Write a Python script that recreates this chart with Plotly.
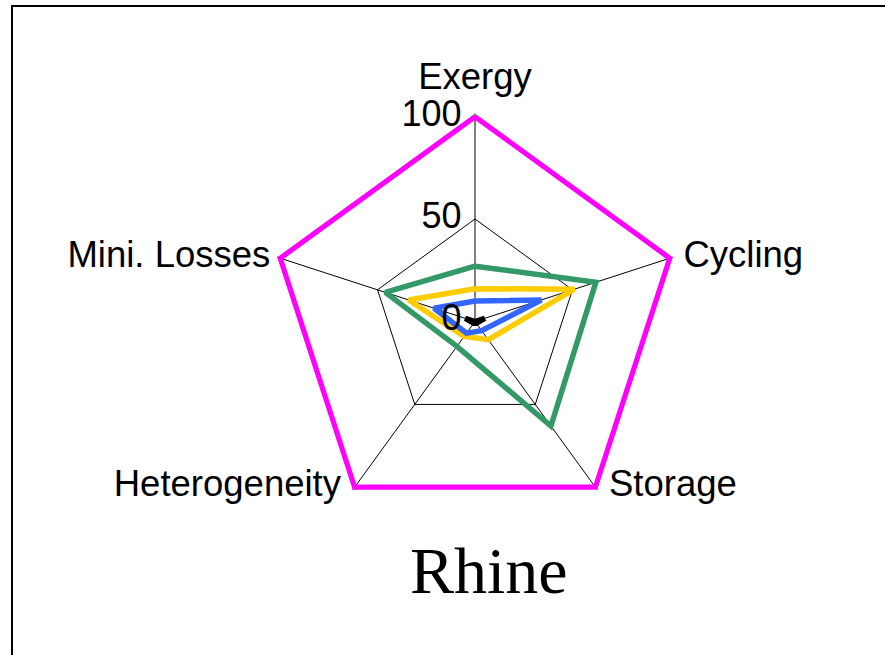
import plotly.graph_objects as go

categories = ["Exergy", "Cycling", "Storage", "Heterogeneity", "Mini. Losses"]
series_magenta = [100, 100, 100, 100, 100]
series_yellow = [16, 51, 11, 9, 34]
series_blue = [10, 34, 5.5, 7, 21]
series_green = [27, 62, 63, 15, 46]
series_black = [0, 5, 1, 1, 5]
radial_ticks = [0, 50, 100]
title_text = "Rhine"

series = [
    (series_magenta, "#FF00FF"),
    (series_yellow, "#FFCC00"),
    (series_blue, "#3366FF"),
    (series_green, "#339966"),
    (series_black, "#000000"),
]

R_MAX = 101.5  # a little headroom so the outer line is not clipped

fig = go.Figure()
for vals, col in series:
    fig.add_trace(go.Scatterpolar(
        r=vals + vals[:1],
        theta=categories + categories[:1],
        mode="lines",
        line=dict(color=col, width=5.5),
        cliponaxis=False,
        showlegend=False,
        hoverinfo="skip",
    ))

# category labels at the outer ring
fig.add_trace(go.Scatterpolar(
    r=[radial_ticks[-1]] * len(categories),
    theta=categories,
    mode="markers+text",
    text=categories,
    textposition=["top center", "middle right", "middle right", "middle left", "middle left"],
    marker=dict(size=[28, 20, 20, 20, 14], opacity=0),
    textfont=dict(size=36.5, family="Liberation Sans, Arial, sans-serif", color="black"),
    cliponaxis=False,
    showlegend=False,
    hoverinfo="skip",
))

# radial tick labels along the Exergy axis
fig.add_trace(go.Scatterpolar(
    r=[max(v, 0.01) for v in radial_ticks],
    theta=[categories[0]] * len(radial_ticks),
    mode="markers+text",
    text=[str(v) for v in radial_ticks],
    textposition="middle left",
    marker=dict(size=20, opacity=0),
    textfont=dict(size=36, family="Liberation Sans, Arial, sans-serif", color="black"),
    cliponaxis=False,
    showlegend=False,
    hoverinfo="skip",
))

W, H = 885, 655
cx, cy = 475, 321.5
R = 205 * R_MAX / 100
fig.update_layout(
    width=W, height=H,
    margin=dict(l=0, r=0, t=0, b=0),
    paper_bgcolor="white",
    plot_bgcolor="white",
    showlegend=False,
    font=dict(family="Liberation Sans, Arial, sans-serif", color="black", size=30),
    polar=dict(
        domain=dict(x=[(cx - R) / W, (cx + R) / W], y=[(H - cy - R) / H, (H - cy + R) / H]),
        bgcolor="white",
        gridshape="linear",
        angularaxis=dict(
            rotation=90,
            direction="clockwise",
            showline=False,
            gridcolor="black",
            gridwidth=1,
            ticks="",
            showticklabels=False,
            layer="below traces",
        ),
        radialaxis=dict(
            range=[0, R_MAX],
            tickvals=radial_ticks,
            angle=90,
            showline=False,
            gridcolor="black",
            gridwidth=1,
            ticks="",
            showticklabels=False,
            layer="below traces",
        ),
    ),
    shapes=[dict(
        type="rect", xref="paper", yref="paper",
        x0=12 / W, x1=1.02, y0=-0.02, y1=1 - 6 / H,
        line=dict(color="black", width=2),
        fillcolor="rgba(0,0,0,0)",
    )],
    annotations=[dict(
        text=title_text, xref="paper", yref="paper",
        x=489 / W, y=1 - 570 / H, xanchor="center", yanchor="middle",
        showarrow=False,
        font=dict(family="Liberation Serif, Times New Roman, serif", size=66, color="black"),
    )],
)

fig.write_html("out.html", config={"displayModeBar": False},
               post_script="document.body.style.margin='0px';")
